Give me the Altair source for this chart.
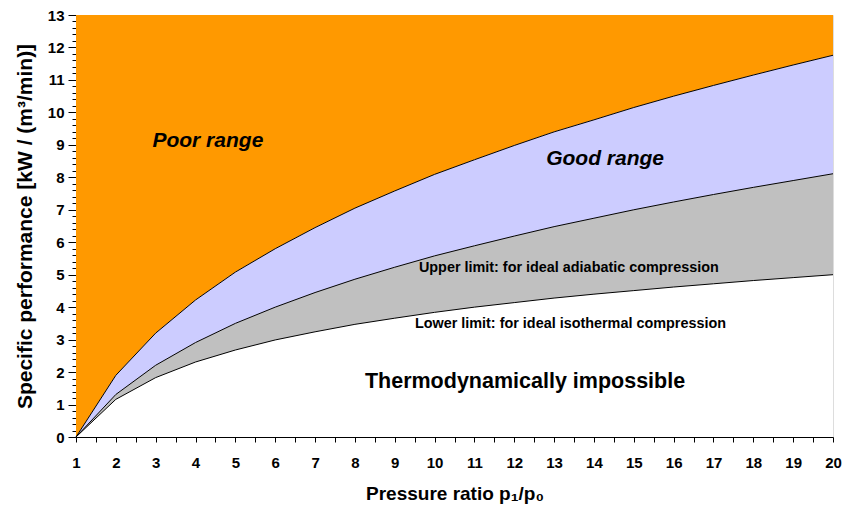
import altair as alt
import pandas as pd

# Pressure ratio p1/p0
ratio = list(range(1, 21))
# Lower limit: ideal isothermal compression
isothermal = [0, 1.16, 1.83, 2.31, 2.68, 2.99, 3.24, 3.47, 3.66, 3.84,
              4.00, 4.14, 4.28, 4.40, 4.51, 4.62, 4.72, 4.82, 4.91, 5.00]
# Upper limit: ideal adiabatic compression
adiabatic = [0, 1.31, 2.21, 2.91, 3.50, 4.00, 4.45, 4.86, 5.23, 5.58,
             5.89, 6.19, 6.48, 6.74, 7.00, 7.24, 7.47, 7.69, 7.90, 8.11]
# Boundary between good range and poor range
good_limit = [0, 1.90, 3.20, 4.22, 5.08, 5.80, 6.45, 7.05, 7.58, 8.09,
              8.54, 8.98, 9.40, 9.77, 10.15, 10.50, 10.83, 11.15, 11.46, 11.76]
y_max = 13

df = pd.DataFrame({"r": ratio, "iso": isothermal, "adi": adiabatic, "good": good_limit})

FONT = "Liberation Sans"
IS_INT = "abs(round(datum.value) - datum.value) < 0.001"

x_vals = [1 + i * 0.5 for i in range(39)]
y_vals = [round(i * 0.2, 1) for i in range(66)]

x_enc = alt.X("r:Q", scale=alt.Scale(domain=[1, 20], nice=False, zero=False),
              axis=alt.Axis(
                  title="Pressure ratio p₁/p₀",
                  values=x_vals, tickCount=len(x_vals),
                  labelExpr=IS_INT + " ? format(round(datum.value), 'd') : ''",
                  grid=False, tickSize=5, tickColor="black", domainColor="black",
                  labelFont=FONT, labelFontSize=15, labelFontWeight="bold", labelColor="black",
                  labelPadding=13, labelFlush=False, labelOverlap=False,
                  titleFont=FONT, titleFontSize=19, titleFontWeight="bold", titleColor="black",
                  titlePadding=14))

y_axis = alt.Axis(
    title="Specific performance [kW / (m³/min)]",
    values=y_vals, tickCount=len(y_vals),
    labelExpr=IS_INT + " ? format(round(datum.value), 'd') : ''",
    grid=False,
    tickSize={"condition": {"test": IS_INT, "value": 8}, "value": 4},
    tickColor="black", domainColor="black",
    labelFont=FONT, labelFontSize=15, labelFontWeight="bold", labelColor="black",
    labelPadding=4, labelFlush=False, labelOverlap=False,
    titleFont=FONT, titleFontSize=21, titleFontWeight="bold", titleColor="black",
    titlePadding=12)
y_scale = alt.Scale(domain=[0, y_max], nice=False)

base = alt.Chart(df)

poor = base.mark_area(color="#FF9900", opacity=1).encode(
    x=x_enc, y=alt.Y("good:Q", scale=y_scale, axis=y_axis), y2=alt.datum(y_max))
good = base.mark_area(color="#CCCCFF", opacity=1).encode(
    x="r:Q", y="adi:Q", y2="good:Q")
gray = base.mark_area(color="#C0C0C0", opacity=1).encode(
    x="r:Q", y="iso:Q", y2="adi:Q")

line_good = base.mark_line(color="black", strokeWidth=1).encode(x="r:Q", y="good:Q")
line_adi = base.mark_line(color="black", strokeWidth=1).encode(x="r:Q", y="adi:Q")
line_iso = base.mark_line(color="black", strokeWidth=1).encode(x="r:Q", y="iso:Q")

def label(text, x, y, size, style="normal"):
    return alt.Chart(df).transform_filter("datum.r == 1").mark_text(
        text=text, font=FONT, fontSize=size, fontWeight="bold", fontStyle=style,
        color="black", align="center", baseline="middle").encode(
        x=alt.datum(x), y=alt.datum(y))

texts = [
    label("Poor range", 4.31, 9.12, 21, "italic"),
    label("Good range", 14.28, 8.56, 21, "italic"),
    label("Upper limit: for ideal adiabatic compression", 13.37, 5.22, 14.4),
    label("Lower limit: for ideal isothermal compression", 13.41, 3.48, 14.4),
    label("Thermodynamically impossible", 12.27, 1.69, 21.5),
]

chart = alt.layer(poor, good, gray, line_good, line_adi, line_iso, *texts).properties(
    width=757, height=422,
    autosize=alt.AutoSizeParams(type="none"),
    padding={"left": 68, "top": 7, "right": 15, "bottom": 70},
).configure_view(stroke="#333333", strokeWidth=1).configure(background="white")

chart.save("out.html", embed_options={"renderer": "svg", "actions": False})
